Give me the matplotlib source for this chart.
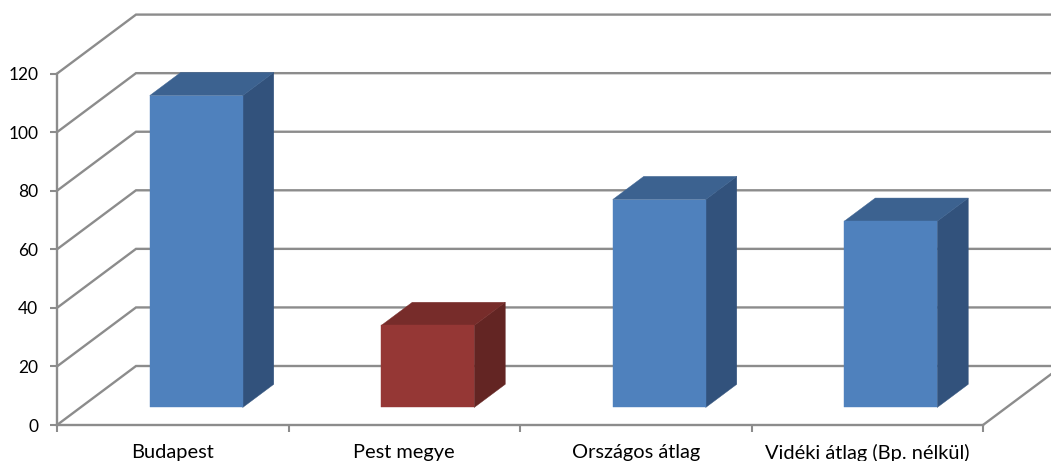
import matplotlib
matplotlib.use('Agg')
import matplotlib.pyplot as plt
from matplotlib.patches import Polygon

plt.rcParams['font.family'] = ['Lato', 'DejaVu Sans']

categories = ['Budapest', 'Pest megye', 'Országos átlag', 'Vidéki átlag (Bp. nélkül)']
values = [106.5, 28, 71, 63.6]
y_ticks = [0, 20, 40, 60, 80, 100, 120]

blue = ('#4F81BD', '#3C6290', '#32527C')
red = ('#953735', '#772C2A', '#632523')
bar_colors = [blue, red, blue, blue]
grid_color = '#8C8C8C'

W, H = 1051, 461
fig = plt.figure(figsize=(W / 100, H / 100), dpi=100)
ax = fig.add_axes([57 / W, (H - 425) / H, (983 - 57) / W, (425 - 73.6) / H])
ax.set_xlim(0, 4)
ax.set_ylim(0, 120)

# oblique depth in data units: full depth is 79px across, 59px up
depth_x = 79 / ((983 - 57) / 4)
depth_y = 59 / ((425 - 73.6) / 120)


def proj(x, y, d):
    return x + d * depth_x, y + d * depth_y


# back wall and floor lines
for v in y_ticks:
    x0, y0 = proj(0, v, 0)
    x1, y1 = proj(0, v, 1)
    x2, y2 = proj(4, v, 1)
    ax.plot([x0, x1, x2], [y0, y1, y2], color=grid_color, lw=1.7, clip_on=False, zorder=1,
            solid_joinstyle='miter')
x0, y0 = proj(4, 0, 0)
x1, y1 = proj(4, 0, 1)
ax.plot([x0, x1], [y0, y1], color=grid_color, lw=1.7, clip_on=False, zorder=1)

# bars
bar_width = 93 / ((983 - 57) / 4)
d_front = 0.297
d_back = 0.69
for i, val in enumerate(values):
    c = bar_colors[i]
    left = i + 0.5 - bar_width / 2
    right = i + 0.5 + bar_width / 2
    front = [proj(left, 0, d_front), proj(right, 0, d_front), proj(right, val, d_front), proj(left, val, d_front)]
    top = [proj(left, val, d_front), proj(right, val, d_front), proj(right, val, d_back), proj(left, val, d_back)]
    side = [proj(right, 0, d_front), proj(right, 0, d_back), proj(right, val, d_back), proj(right, val, d_front)]
    for pts, col in zip((side, top, front), (c[2], c[1], c[0])):
        ax.add_patch(Polygon(pts, closed=True, facecolor=col, edgecolor=col, lw=0.3, clip_on=False, zorder=3))

for s in ('top', 'right'):
    ax.spines[s].set_visible(False)
for s in ('left', 'bottom'):
    ax.spines[s].set_color(grid_color)
    ax.spines[s].set_linewidth(1.7)

ax.set_yticks(y_ticks)
ax.set_xticks([0, 1, 2, 3, 4])
ax.set_xticklabels([])
ax.set_xticks([0.5, 1.5, 2.5, 3.5], minor=True)
ax.set_xticklabels(categories, minor=True)
ax.tick_params(axis='x', which='major', length=5, width=1.5, color=grid_color)
ax.tick_params(axis='x', which='minor', length=0, pad=13.5, labelsize=14.4, labelcolor='black')
ax.tick_params(axis='y', length=5, width=1.5, color=grid_color, labelsize=12.5, pad=8.5)

fig.savefig('out.png', dpi=100)
